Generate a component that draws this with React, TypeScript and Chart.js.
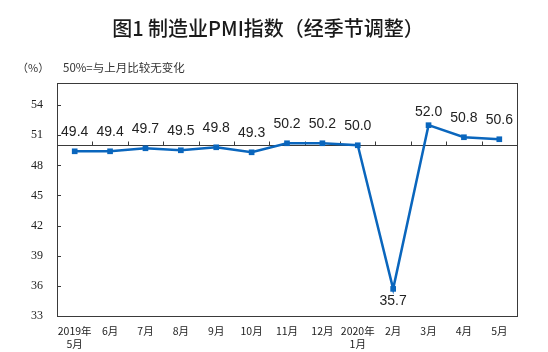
import React, { useEffect, useRef } from "react";
import { Chart, registerables } from "chart.js";

Chart.register(...registerables);

const TITLE = "图1 制造业PMI指数（经季节调整）";
const UNIT = "（%）";
const NOTE = "50%=与上月比较无变化";
const CATEGORIES: (string | string[])[] = [
  ["2019年", "5月"], "6月", "7月", "8月", "9月", "10月", "11月", "12月",
  ["2020年", "1月"], "2月", "3月", "4月", "5月",
];
const PMI = [49.4, 49.4, 49.7, 49.5, 49.8, 49.3, 50.2, 50.2, 50.0, 35.7, 52.0, 50.8, 50.6];
const Y_TICKS = [33, 36, 39, 42, 45, 48, 51, 54];
const Y_MIN = 33;
const Y_MAX = 56.2;
const BASELINE = 50;

const LINE_COLOR = "#0a66bd";
const AXIS_COLOR = "#3a3a3a";

const decorPlugin = {
  id: "decor",
  beforeDatasetsDraw(chart: any) {
    const { ctx, chartArea: a, scales } = chart;
    const y = scales.y;
    ctx.save();
    ctx.strokeStyle = AXIS_COLOR;
    ctx.lineWidth = 1;
    ctx.strokeRect(Math.round(a.left) + 0.5, Math.round(a.top) + 0.5, Math.round(a.right - a.left), Math.round(a.bottom - a.top));
    ctx.beginPath();
    Y_TICKS.forEach((v) => {
      const py = Math.round(y.getPixelForValue(v)) + 0.5;
      ctx.moveTo(a.left, py);
      ctx.lineTo(a.left + 4, py);
    });
    const by = Math.round(y.getPixelForValue(BASELINE)) + 0.5;
    ctx.moveTo(a.left, by);
    ctx.lineTo(a.right, by);
    const n = CATEGORIES.length;
    const step = (a.right - a.left) / n;
    for (let i = 1; i < n; i++) {
      const px = Math.round(a.left + i * step) + 0.5;
      ctx.moveTo(px, by);
      ctx.lineTo(px, by - 4);
    }
    ctx.stroke();
    ctx.restore();
  },
  afterDatasetsDraw(chart: any) {
    const { ctx } = chart;
    const meta = chart.getDatasetMeta(0);
    const minV = Math.min(...PMI);
    const maxV = Math.max(...PMI);
    ctx.save();
    ctx.fillStyle = "#222";
    ctx.font = '14px "Liberation Sans", Arial, sans-serif';
    ctx.textAlign = "center";
    ctx.textBaseline = "middle";
    meta.data.forEach((pt: any, i: number) => {
      const v = PMI[i];
      let dy = -19;
      if (v === minV) dy = 12;
      else if (v === maxV) dy = -13;
      ctx.fillText(v.toFixed(1), pt.x, pt.y + dy);
    });
    ctx.fillStyle = "#1a1a1a";
    ctx.font = '500 20px "Noto Sans CJK SC", sans-serif';
    ctx.textAlign = "center";
    ctx.fillText(TITLE, 268, 28);
    ctx.fillStyle = "#333";
    ctx.font = '11px "Noto Sans CJK SC", sans-serif';
    ctx.textAlign = "left";
    ctx.fillText(UNIT, 17, 68);
    ctx.font = '11.5px "Noto Sans CJK SC", sans-serif';
    ctx.fillText(NOTE, 63, 68);
    ctx.restore();
  },
};

export default function App() {
  const ref = useRef<HTMLCanvasElement>(null);
  useEffect(() => {
    if (!ref.current) return;
    const chart = new Chart(ref.current, {
      type: "line",
      data: {
        labels: CATEGORIES,
        datasets: [
          {
            data: PMI,
            borderColor: LINE_COLOR,
            backgroundColor: LINE_COLOR,
            borderWidth: 2.5,
            tension: 0,
            pointStyle: "rect",
            pointRadius: 4,
            pointBorderWidth: 0,
            pointBackgroundColor: LINE_COLOR,
          },
        ],
      },
      options: {
        animation: false,
        responsive: false,
        devicePixelRatio: 1,
        layout: { padding: { top: 83, right: 31, left: 0, bottom: 0 } },
        plugins: { legend: { display: false }, title: { display: false }, tooltip: { enabled: false } },
        scales: {
          x: {
            type: "category",
            offset: true,
            grid: { display: false, drawTicks: false },
            border: { display: false },
            ticks: {
              color: "#222",
              font: { family: '"Noto Sans CJK SC", sans-serif', size: 10.5 },
              padding: 9,
              maxRotation: 0,
              autoSkip: false,
            },
            afterFit: (s: any) => { s.height = 36; },
          },
          y: {
            min: Y_MIN,
            max: Y_MAX,
            grid: { display: false, drawTicks: false },
            border: { display: false },
            afterBuildTicks: (s: any) => { s.ticks = Y_TICKS.map((v) => ({ value: v })); },
            ticks: {
              color: "#222",
              font: { family: '"Liberation Serif", "Times New Roman", serif', size: 12 },
              padding: 14,
            },
            afterFit: (s: any) => { s.width = 57; },
          },
        },
      },
      plugins: [decorPlugin],
    });
    return () => chart.destroy();
  }, []);
  return (
    <div style={{ position: "absolute", left: 0, top: 0, width: 548, height: 352, background: "#fff" }}>
      <canvas ref={ref} width={548} height={352} style={{ width: 548, height: 352, display: "block" }} />
    </div>
  );
}
